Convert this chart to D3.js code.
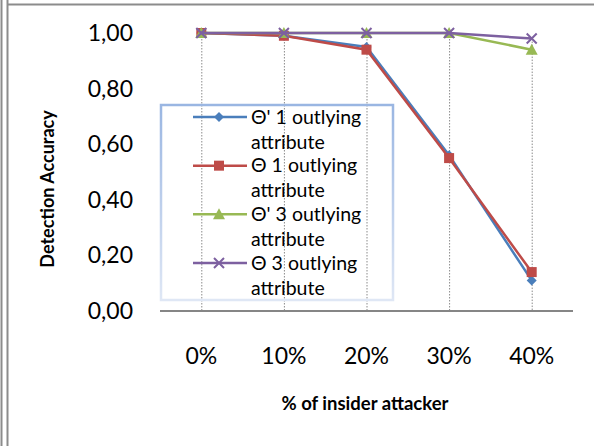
<!DOCTYPE html>
<html>
<head>
<meta charset="utf-8">
<script src="https://cdn.jsdelivr.net/npm/d3@7"></script>
<style>
  body { margin: 0; background: #fff; }
  svg { display: block; font-family: Lato, "Open Sans", sans-serif; }
</style>
</head>
<body>
<div id="chart"></div>
<script>
const categories = ["0%", "10%", "20%", "30%", "40%"];
const seriesNames = [
  ["Θ' 1 outlying", "attribute"],
  ["Θ 1 outlying", "attribute"],
  ["Θ' 3 outlying", "attribute"],
  ["Θ 3 outlying", "attribute"],
];
const thetaPrime1 = [1.0, 0.99, 0.95, 0.56, 0.11];
const theta1 = [1.0, 0.99, 0.94, 0.55, 0.14];
const thetaPrime3 = [1.0, 1.0, 1.0, 1.0, 0.94];
const theta3 = [1.0, 1.0, 1.0, 1.0, 0.98];
const yTicks = [0, 0.2, 0.4, 0.6, 0.8, 1.0];

const W = 594, H = 446;
const colors = ["#4a7ebb", "#be4b48", "#98b954", "#7d60a0"];
const markers = ["diamond", "square", "triangle", "cross"];
const seriesValues = [thetaPrime1, theta1, thetaPrime3, theta3];

const series = seriesValues.map((values, k) => ({
  name: seriesNames[k],
  color: colors[k],
  marker: markers[k],
  points: values.map((v, i) => ({ cat: categories[i], v })),
}));

const svg = d3.select("#chart").append("svg")
  .attr("width", W).attr("height", H);

// outer frame lines
const frame = svg.append("g").attr("stroke", "#8c8c8c").attr("stroke-width", 2);
frame.append("line").attr("x1", 1.5).attr("x2", 1.5).attr("y1", 0).attr("y2", H);
frame.append("line").attr("x1", 7.5).attr("x2", 7.5).attr("y1", 0).attr("y2", H);
frame.append("line").attr("x1", 7).attr("x2", W).attr("y1", 4.5).attr("y2", 4.5);

const x = d3.scaleBand().domain(categories).range([160, 573]);
const y = d3.scaleLinear().domain([0, 1]).range([311, 33]);
const cx = (c) => x(c) + x.bandwidth() / 2;

// y tick labels
svg.append("g")
  .attr("font-size", 23)
  .attr("text-anchor", "end")
  .attr("fill", "#000")
  .selectAll("text")
  .data(yTicks)
  .join("text")
  .attr("x", 133)
  .attr("y", (d) => y(d))
  .attr("dy", "0.35em")
  .text((d) => d.toFixed(2).replace(".", ","));

// drop lines from the highest point at each category
const maxAt = categories.map((c, i) => ({ c, v: d3.max(seriesValues, (s) => s[i]) }));
svg.append("g")
  .attr("stroke", "#8a8a8a")
  .attr("stroke-width", 1)
  .attr("stroke-dasharray", "1.5,1.5")
  .selectAll("line")
  .data(maxAt)
  .join("line")
  .attr("x1", (d) => cx(d.c) + 0.5)
  .attr("x2", (d) => cx(d.c) + 0.5)
  .attr("y1", (d) => y(d.v))
  .attr("y2", y(0));

// x axis line
svg.append("line")
  .attr("x1", x.range()[0]).attr("x2", x.range()[1])
  .attr("y1", y(0)).attr("y2", y(0))
  .attr("stroke", "#868686").attr("stroke-width", 2);

// x tick labels
svg.append("g")
  .attr("font-size", 23)
  .attr("text-anchor", "middle")
  .selectAll("text")
  .data(categories)
  .join("text")
  .attr("x", (d) => cx(d))
  .attr("y", 356)
  .attr("dy", "0.35em")
  .text((d) => d);

// axis titles
svg.append("text")
  .attr("x", 365).attr("y", 404).attr("dy", "0.35em")
  .attr("text-anchor", "middle")
  .attr("font-size", 18.5).attr("font-weight", "bold")
  .text("% of insider attacker");

svg.append("text")
  .attr("transform", "translate(48,189) rotate(-90)")
  .attr("dy", "0.35em")
  .attr("text-anchor", "middle")
  .attr("font-size", 18).attr("font-weight", "bold")
  .text("Detection Accuracy");

function drawMarker(g, type, color) {
  if (type === "diamond") {
    g.append("path").attr("d", "M0,-5L5,0L0,5L-5,0Z").attr("fill", color);
  } else if (type === "square") {
    g.append("rect").attr("x", -5).attr("y", -5).attr("width", 10).attr("height", 10).attr("fill", color);
  } else if (type === "triangle") {
    g.append("path").attr("d", "M0,-6L6,5L-6,5Z").attr("fill", color);
  } else {
    g.append("path").attr("d", "M-5,-5L5,5M-5,5L5,-5")
      .attr("stroke", color).attr("stroke-width", 2).attr("fill", "none");
  }
}

const line = d3.line().x((d) => cx(d.cat)).y((d) => y(d.v));

const seriesG = svg.append("g").selectAll("g").data(series).join("g");
seriesG.append("path")
  .attr("d", (d) => line(d.points))
  .attr("fill", "none")
  .attr("stroke", (d) => d.color)
  .attr("stroke-width", 2.5);
seriesG.each(function (s) {
  d3.select(this).selectAll("g.m")
    .data(s.points)
    .join("g")
    .attr("class", "m")
    .attr("transform", (d) => `translate(${cx(d.cat)},${y(d.v)})`)
    .each(function () { drawMarker(d3.select(this), s.marker, s.color); });
});

// legend
const defs = svg.append("defs");
const grad = defs.append("linearGradient").attr("id", "legBorder")
  .attr("x1", 0).attr("y1", 0).attr("x2", 0).attr("y2", 1);
grad.append("stop").attr("offset", "0%").attr("stop-color", "#9ab6e2");
grad.append("stop").attr("offset", "100%").attr("stop-color", "#dfe7f5");

const legend = svg.append("g");
legend.append("rect")
  .attr("x", 161).attr("y", 105).attr("width", 232).attr("height", 195)
  .attr("fill", "none").attr("stroke", "url(#legBorder)").attr("stroke-width", 2.5);

const rowY = d3.scalePoint().domain(d3.range(series.length)).range([117, 263]);
const items = legend.selectAll("g.item").data(series).join("g")
  .attr("class", "item")
  .attr("transform", (d, i) => `translate(0,${rowY(i)})`);
items.append("line")
  .attr("x1", 193).attr("x2", 247)
  .attr("stroke", (d) => d.color).attr("stroke-width", 2.5);
items.each(function (s) {
  const m = d3.select(this).append("g").attr("transform", "translate(219,0)");
  drawMarker(m, s.marker, s.color);
});
items.append("text")
  .attr("x", 251)
  .attr("font-size", 19.5)
  .selectAll("tspan")
  .data((d) => d.name)
  .join("tspan")
  .attr("x", 251)
  .attr("y", (d, j) => j * 25)
  .attr("dy", "0.35em")
  .text((d) => d);
</script>
</body>
</html>
